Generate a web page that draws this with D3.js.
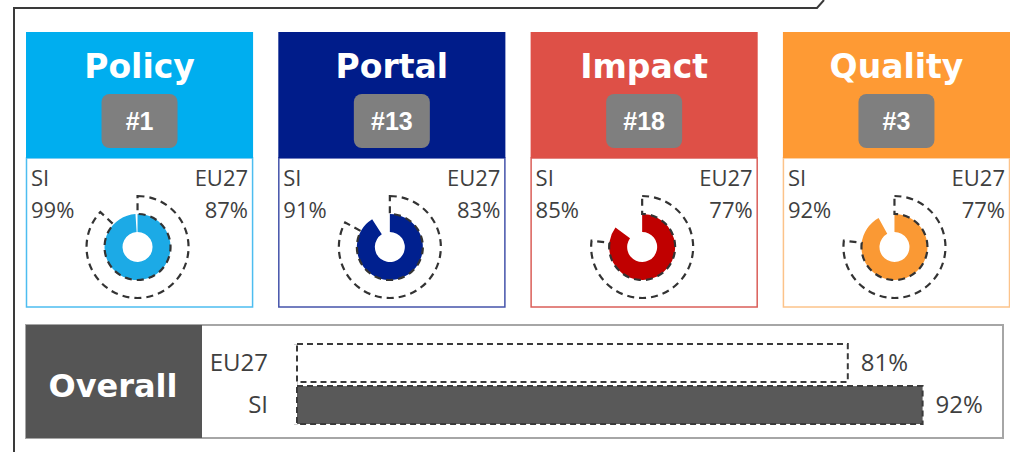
<!DOCTYPE html>
<html>
<head>
<meta charset="utf-8">
<script src="https://cdn.jsdelivr.net/npm/d3@7"></script>
<style>
  body { margin: 0; background: #fff; }
</style>
</head>
<body>
<div id="chart"></div>
<script>
// pillar data
const categories = ["Policy", "Portal", "Impact", "Quality"];
const ranks = ["#1", "#13", "#18", "#3"];
const siValues = [99, 91, 85, 92];
const eu27Values = [87, 83, 77, 77];

// overall bar data
const overallLabels = ["EU27", "SI"];
const overallValues = [81, 92];

const headerColors = ["#00AEEF", "#001C8A", "#DE5047", "#FE9A34"];
const donutColors = ["#1CAAE6", "#00208F", "#C00000", "#FA9934"];
const borderColors = ["#4DBDF0", "#4453AA", "#DA5E58", "#FCC38A"];

const width = 1010, height = 452;

const svg = d3.select("#chart")
    .append("svg")
    .attr("width", width)
    .attr("height", height);

// outer frame with the little slant at the top right
svg.append("path")
    .attr("d", "M14,452 L14,8 L817,8 L824,0")
    .attr("fill", "none")
    .attr("stroke", "#3a3a3a")
    .attr("stroke-width", 2);

const panelX = d3.scaleBand()
    .domain(categories)
    .range([26, 1010])
    .paddingInner(0.1);

const angle = d3.scaleLinear().domain([0, 100]).range([0, 2 * Math.PI]);

const siArc = d3.arc().innerRadius(15).outerRadius(33).startAngle(0);
const euArc = d3.arc().innerRadius(33).outerRadius(51).startAngle(0);

const panels = svg.selectAll("g.panel")
    .data(categories)
    .enter().append("g")
    .attr("class", "panel")
    .attr("transform", d => "translate(" + panelX(d) + ",0)");

const pw = panelX.bandwidth();

panels.append("rect")
    .attr("x", 0.5)
    .attr("y", 158)
    .attr("width", pw - 1)
    .attr("height", 149)
    .attr("fill", "#fff")
    .attr("stroke", (d, i) => borderColors[i])
    .attr("stroke-width", 1.5);

panels.append("rect")
    .attr("x", 0)
    .attr("y", 32)
    .attr("width", pw)
    .attr("height", 126)
    .attr("fill", (d, i) => headerColors[i]);

panels.append("text")
    .attr("x", pw / 2)
    .attr("y", 78)
    .attr("text-anchor", "middle")
    .style("font-family", "DejaVu Sans, sans-serif")
    .style("font-weight", "bold")
    .style("font-size", "33px")
    .style("fill", "#fff")
    .text(d => d);

panels.append("rect")
    .attr("x", pw / 2 - 38)
    .attr("y", 94)
    .attr("width", 76)
    .attr("height", 54)
    .attr("rx", 8)
    .attr("fill", "#7f7f7f");

panels.append("text")
    .attr("x", pw / 2)
    .attr("y", 130)
    .attr("text-anchor", "middle")
    .style("font-family", "Liberation Sans, Arial, sans-serif")
    .style("font-weight", "bold")
    .style("font-size", "25px")
    .style("fill", "#fff")
    .text((d, i) => ranks[i]);

const labelStyle = sel => sel
    .style("font-family", "Open Sans, sans-serif")
    .style("font-size", "22px")
    .style("fill", "#3f3f3f");

panels.append("text").attr("x", 5).attr("y", 186).text("SI").call(labelStyle);
panels.append("text").attr("x", 5).attr("y", 218).text((d, i) => siValues[i] + "%").call(labelStyle);
panels.append("text").attr("x", pw - 5).attr("y", 186).attr("text-anchor", "end").text("EU27").call(labelStyle);
panels.append("text").attr("x", pw - 5).attr("y", 218).attr("text-anchor", "end").text((d, i) => eu27Values[i] + "%").call(labelStyle);

const donuts = panels.append("g")
    .attr("transform", "translate(" + (pw / 2 - 2) + ",247)");

donuts.append("path")
    .attr("d", (d, i) => siArc({endAngle: angle(siValues[i])}))
    .attr("fill", (d, i) => donutColors[i]);

donuts.append("path")
    .attr("d", (d, i) => euArc({endAngle: angle(eu27Values[i])}))
    .attr("fill", "none")
    .attr("stroke", "#333")
    .attr("stroke-width", 2.2)
    .attr("stroke-dasharray", "7,5");

// overall section
svg.append("rect")
    .attr("x", 26)
    .attr("y", 325)
    .attr("width", 977)
    .attr("height", 113)
    .attr("fill", "#fff")
    .attr("stroke", "#a6a6a6")
    .attr("stroke-width", 2);

svg.append("rect")
    .attr("x", 26)
    .attr("y", 325)
    .attr("width", 176)
    .attr("height", 113)
    .attr("fill", "#555555");

svg.append("text")
    .attr("x", 113)
    .attr("y", 397)
    .attr("text-anchor", "middle")
    .style("font-family", "DejaVu Sans, sans-serif")
    .style("font-weight", "bold")
    .style("font-size", "32px")
    .style("fill", "#fff")
    .text("Overall");

const x = d3.scaleLinear().domain([0, 100]).range([297, 977]);
const y = d3.scaleBand().domain(overallLabels).range([344, 424]).paddingInner(0.1);

const yAxis = svg.append("g")
    .attr("transform", "translate(297,0)")
    .call(d3.axisLeft(y).tickSize(0).tickSizeOuter(3).tickPadding(29));

yAxis.select(".domain").attr("stroke", "#d0d0d0");
yAxis.selectAll("text")
    .style("font-family", "Open Sans, sans-serif")
    .style("font-size", "24px")
    .style("fill", "#3f3f3f");

svg.selectAll("rect.bar")
    .data(overallLabels)
    .enter().append("rect")
    .attr("class", "bar")
    .attr("x", x(0))
    .attr("y", d => y(d))
    .attr("width", (d, i) => x(overallValues[i]) - x(0))
    .attr("height", y.bandwidth())
    .attr("fill", d => d === "SI" ? "#595959" : "#fff")
    .attr("stroke", "#3a3a3a")
    .attr("stroke-width", 2)
    .attr("stroke-dasharray", "6,4");

svg.selectAll("text.value")
    .data(overallLabels)
    .enter().append("text")
    .attr("class", "value")
    .attr("x", (d, i) => x(overallValues[i]) + 13)
    .attr("y", d => y(d) + y.bandwidth() / 2)
    .attr("dy", "0.35em")
    .style("font-family", "Open Sans, sans-serif")
    .style("font-size", "24px")
    .style("fill", "#3f3f3f")
    .text((d, i) => overallValues[i] + "%");
</script>
</body>
</html>
